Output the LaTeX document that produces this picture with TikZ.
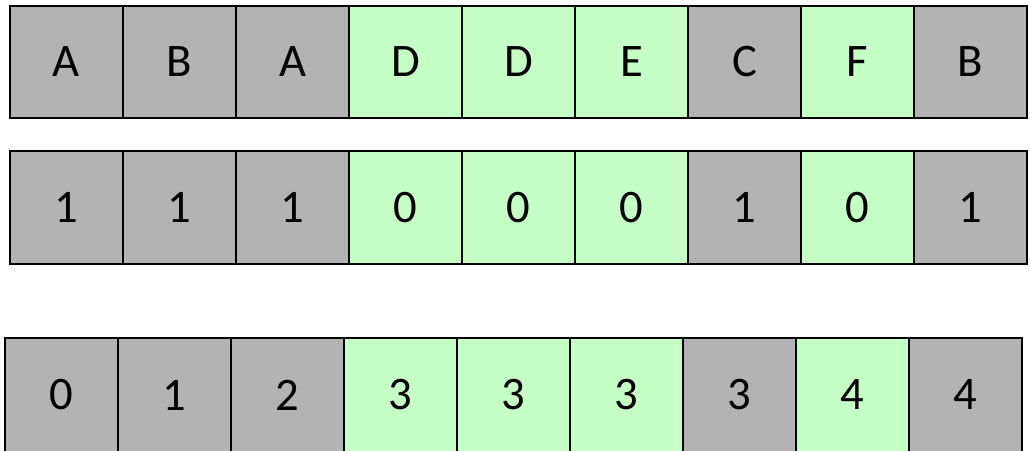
\documentclass[tikz,border=0pt]{standalone}
\usepackage{fontspec}
\setmainfont{Carlito}
\usepackage{xcolor}
\usetikzlibrary{positioning}
\definecolor{grayc}{HTML}{B3B3B3}
\definecolor{greenc}{HTML}{C6FFC6}
\tikzset{
  cell/.style={draw=black,line width=1.5pt,minimum width=84.75pt,inner sep=0pt,
    font=\fontsize{35}{42}\selectfont},
  gc/.style={cell,fill=grayc},
  lc/.style={cell,fill=greenc}
}

\begin{document}
\begin{tikzpicture}[x=0.75pt,y=-0.75pt]
\useasboundingbox (0,0) rectangle (1030,450);
% letters
\foreach \t/\s [count=\i] in {A/gc,B/gc,A/gc,D/lc,D/lc,E/lc,C/gc,F/lc,B/gc}{%
  \node[\s,minimum height=84pt] (a\i) at ({10+113*(\i-0.5)},62) {\t};}
% flags
\foreach \t/\s [count=\i] in {1/gc,1/gc,1/gc,0/lc,0/lc,0/lc,1/gc,0/lc,1/gc}{%
  \node[\s,minimum height=84.75pt] (b\i) at ({10+113*(\i-0.5)},207.5) {\t};}
% counts
\foreach \t/\s [count=\i] in {0/gc,1/gc,2/gc,3/lc,3/lc,3/lc,3/gc,4/lc,4/gc}{%
  \node[\s,minimum height=85.5pt] (c\i) at ({5+113*(\i-0.5)},395) {\t};}
\end{tikzpicture}
\end{document}
